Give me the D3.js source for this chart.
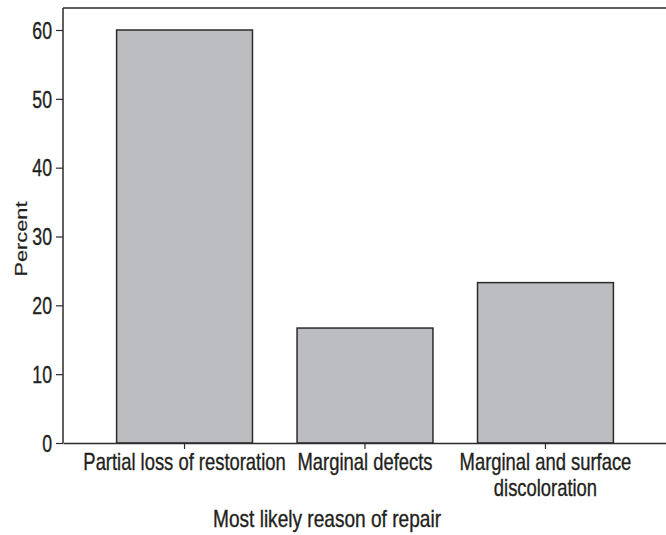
<!DOCTYPE html>
<html>
<head>
<meta charset="utf-8">
<script src="https://cdn.jsdelivr.net/npm/d3@7"></script>
<style>
  body { margin: 0; background: #fff; }
  text { font-family: "Liberation Sans", Arial, sans-serif; fill: #231f20; stroke: #231f20; stroke-width: 0.35px; }
</style>
</head>
<body>
<div id="chart"></div>
<script>
// data
categories = ['Partial loss of restoration', 'Marginal defects', 'Marginal and surface discoloration'];
catLines = [['Partial loss of restoration'], ['Marginal defects'], ['Marginal and surface', 'discoloration']];
percents = [60.0, 16.7, 23.3];
yTicks = [0, 10, 20, 30, 40, 50, 60];

margin = { top: 8, right: -1, bottom: 92, left: 63 };
width = 666;
height = 535;

// squeeze text horizontally, the reference uses a condensed face
function condense(sel, f) {
  sel.each(function () {
    var n = this.getComputedTextLength();
    d3.select(this).attr('textLength', n * f).attr('lengthAdjust', 'spacingAndGlyphs');
  });
}

x = d3
  .scaleBand()
  .domain(categories)
  .range([margin.left, width - margin.right])
  .paddingInner(0.247)
  .paddingOuter(0.297);

y = d3
  .scaleLinear()
  .domain([0, 60])
  .range([height - margin.bottom, 30]);

var svg = d3
  .select('#chart')
  .append('svg')
  .attr('width', width)
  .attr('height', height);

// bars
svg
  .append('g')
  .selectAll('rect')
  .data(percents)
  .join('rect')
  .attr('x', (d, i) => x(categories[i]))
  .attr('y', (d) => y(d))
  .attr('width', x.bandwidth())
  .attr('height', (d) => y(0) - y(d))
  .attr('fill', '#bcbdc1')
  .attr('stroke', '#2b2b2b')
  .attr('stroke-width', 1.5);

// frame (top line)
svg
  .append('line')
  .attr('x1', margin.left)
  .attr('x2', width - margin.right)
  .attr('y1', margin.top)
  .attr('y2', margin.top)
  .attr('stroke', '#2b2b2b')
  .attr('stroke-width', 1.5);

// y axis
var yAxis = svg
  .append('g')
  .attr('transform', `translate(${margin.left},0)`)
  .call(d3.axisLeft(y).tickValues(yTicks).tickSize(7).tickSizeOuter(0).tickPadding(4));
yAxis.select('.domain').attr('d', `M0,${margin.top}V${y(0)}`).attr('stroke', '#2b2b2b').attr('stroke-width', 1.5);
yAxis.selectAll('.tick line').attr('stroke', '#2b2b2b').attr('stroke-width', 1.2);
yAxis.selectAll('.tick text')
  .style('font-family', '"Liberation Sans", Arial, sans-serif')
  .style('font-size', '23px')
  .attr('fill', '#231f20')
  .attr('dy', '0.36em')
  .call(condense, 0.77);

// x axis
var xAxis = svg
  .append('g')
  .attr('transform', `translate(0,${y(0)})`)
  .call(d3.axisBottom(x).tickSize(6).tickSizeOuter(0).tickFormat(''));
xAxis.select('.domain').attr('stroke', '#2b2b2b').attr('stroke-width', 1.5);
xAxis.selectAll('.tick line').attr('stroke', '#2b2b2b').attr('stroke-width', 1.2);

// category labels, one text per line (scaled horizontally)
var labels = [];
catLines.forEach((lines, i) => lines.forEach((t, j) => labels.push({ cat: categories[i], text: t, line: j })));
svg
  .append('g')
  .selectAll('text')
  .data(labels)
  .join('text')
  .attr('transform', (d) => `translate(${x(d.cat) + x.bandwidth() / 2},${470 + d.line * 26}) scale(0.8,1)`)
  .attr('text-anchor', 'middle')
  .style('font-size', '23px')
  .text((d) => d.text);

// axis titles
svg
  .append('text')
  .attr('transform', 'translate(327,527) scale(0.83,1)')
  .attr('text-anchor', 'middle')
  .style('font-size', '23px')
  .text('Most likely reason of repair');

svg
  .append('text')
  .attr('transform', `translate(27,${239}) rotate(-90)`)
  .attr('text-anchor', 'middle')
  .style('font-size', '16.5px')
  .style('stroke-width', '0.2px')
  .text('Percent')
  .attr('textLength', 75)
  .attr('lengthAdjust', 'spacingAndGlyphs');
</script>
</body>
</html>
